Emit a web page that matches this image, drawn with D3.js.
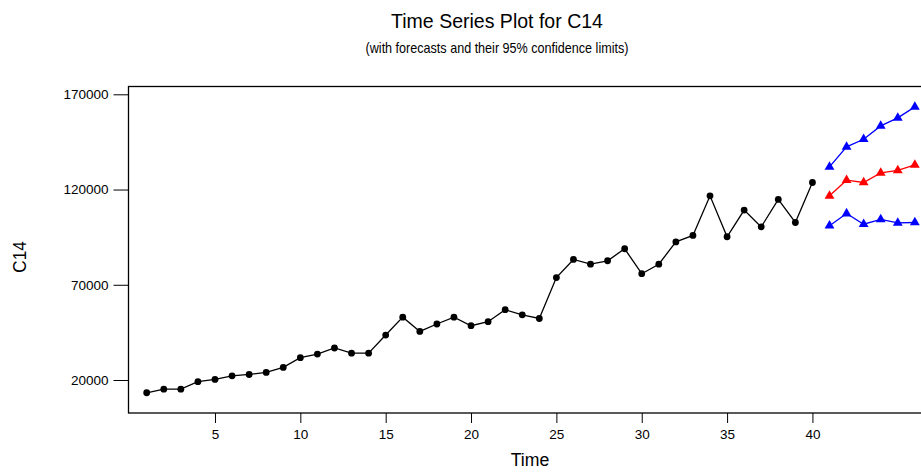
<!DOCTYPE html>
<html>
<head>
<meta charset="utf-8">
<script src="https://cdn.jsdelivr.net/npm/d3@7"></script>
<style>
  body { margin: 0; background: #fff; }
  svg { display: block; font-family: "Liberation Sans", Arial, sans-serif; }
</style>
</head>
<body>
<svg id="chart" width="921" height="473"></svg>
<script>
// observed series C14, time 1..40
const actual = [13300, 15200, 15200, 19100, 20300, 22200, 22900, 24000, 26600, 31700,
  33600, 36800, 34100, 34100, 43600, 53000, 45500, 49400, 53000, 48500,
  50600, 56900, 54200, 52300, 73800, 83300, 80800, 82600, 88900, 75800,
  80800, 92500, 95900, 116700, 95200, 109200, 100400, 114800, 102700, 123700];
// forecasts for time 41..46
const forecast = [116700, 124900, 123700, 128700, 130000, 132900];
const upper = [131900, 142400, 146400, 153400, 157600, 163400];
const lower = [101000, 107400, 101800, 104300, 102500, 102700];
const xTicks = [5, 10, 15, 20, 25, 30, 35, 40];
const yTicks = [20000, 70000, 120000, 170000];

const svg = d3.select("#chart");

let frame = { left: 128.5, top: 86.5, right: 935, bottom: 413 };

let x = d3.scaleLinear().domain([1, 40]).range([146.7, 146.7 + 39 * 17.07]);
let y = d3.scaleLinear().domain([20000, 170000]).range([380, 94.3]);

// frame
svg.append("rect")
  .attr("x", frame.left).attr("y", frame.top)
  .attr("width", frame.right - frame.left)
  .attr("height", frame.bottom - frame.top)
  .attr("fill", "none").attr("stroke", "#000").attr("stroke-width", 1.3);

// axes
let xAxis = d3.axisBottom(x).tickValues(xTicks).tickSize(10).tickPadding(6);
let gx = svg.append("g").attr("transform", `translate(0,${frame.bottom})`).call(xAxis);
gx.select(".domain").remove();

let yAxis = d3.axisLeft(y).tickValues(yTicks).tickSize(15).tickPadding(5).tickFormat(d3.format("d"));
let gy = svg.append("g").attr("transform", `translate(${frame.left},0)`).call(yAxis);
gy.select(".domain").remove();

svg.selectAll(".tick text")
  .style("font-size", "13.5px")
  .style("font-family", "Liberation Sans, Arial, sans-serif")
  .attr("fill", "#000");
svg.selectAll(".tick line").attr("stroke", "#000").attr("stroke-width", 1);

// condensed text, like the original narrow font
function label(txt, cx, cy, size, sx, rot) {
  svg.append("text")
    .attr("transform", `translate(${cx},${cy}) rotate(${rot || 0}) scale(${sx},1)`)
    .attr("text-anchor", "middle")
    .style("font-size", size + "px")
    .text(txt);
}

label("Time Series Plot for C14", 497, 27.5, 21, 0.93);
label("(with forecasts and their 95% confidence limits)", 497, 53, 14, 0.9);
label("Time", 530, 466, 19, 0.93);
label("C14", 26, 257, 18, 0.95, -90);

// series
let line = d3.line().x(d => x(d.t)).y(d => y(d.v));
let toPts = (arr, t0) => arr.map((v, i) => ({ t: t0 + i, v: v }));

let obs = toPts(actual, 1);
svg.append("path").datum(obs).attr("d", line)
  .attr("fill", "none").attr("stroke", "#000").attr("stroke-width", 1.3);
svg.selectAll(".obs").data(obs).enter().append("circle")
  .attr("class", "obs")
  .attr("cx", d => x(d.t)).attr("cy", d => y(d.v)).attr("r", 3.4)
  .attr("fill", "#000");

let tri = d3.symbol().type(d3.symbolTriangle).size(42);
let fcSeries = [
  { data: toPts(upper, 41), color: "#0000ff" },
  { data: toPts(forecast, 41), color: "#ff0000" },
  { data: toPts(lower, 41), color: "#0000ff" }
];
fcSeries.forEach(s => {
  svg.append("path").datum(s.data).attr("d", line)
    .attr("fill", "none").attr("stroke", s.color).attr("stroke-width", 1.3);
  svg.append("g").selectAll("path").data(s.data).enter().append("path")
    .attr("d", tri)
    .attr("transform", d => `translate(${x(d.t)},${y(d.v)})`)
    .attr("fill", s.color);
});
</script>
</body>
</html>
